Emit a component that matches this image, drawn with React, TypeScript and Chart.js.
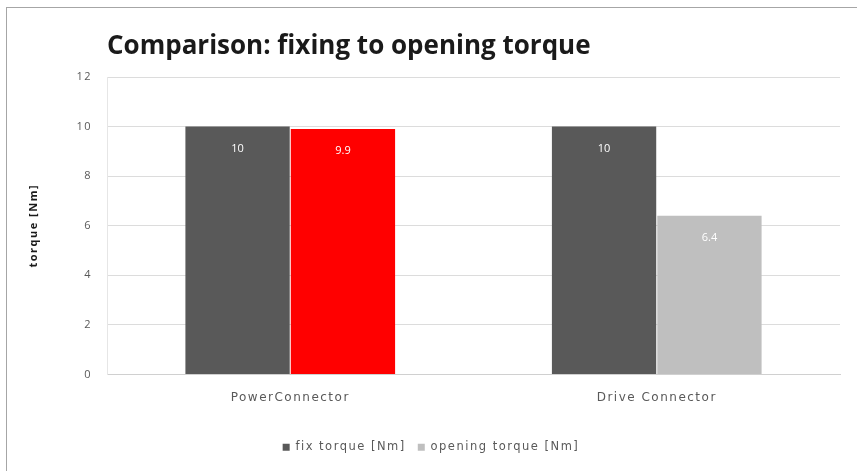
import React, { useEffect, useRef } from "react";
import { Chart, registerables } from "chart.js";

Chart.register(...registerables);

const categories = ["PowerConnector", "Drive Connector"];
const fixTorque = [10, 10];
const openingTorque = [9.9, 6.4];
const fixLabels = ["10", "10"];
const openingLabels = ["9.9", "6.4"];
const openingColors = ["#ff0000", "#bfbfbf"];
const yTicks = [0, 2, 4, 6, 8, 10, 12];

const FONT = "'Open Sans', 'Liberation Sans', sans-serif";
const WIDE = "'DejaVu Sans', sans-serif";

const spacingPlugin = {
  id: "spacing",
  beforeUpdate(chart: any) {
    chart.ctx.letterSpacing = "1.5px";
  },
  beforeDraw(chart: any) {
    chart.ctx.letterSpacing = "1.5px";
  },
};

const decorPlugin = {
  id: "decor",
  afterDraw(chart: any) {
    const ctx = chart.ctx;
    const area = chart.chartArea;
    ctx.save();
    ctx.letterSpacing = "0px";
    // title
    ctx.fillStyle = "#1a1a1a";
    ctx.font = `bold 26px ${FONT}`;
    ctx.textAlign = "left";
    ctx.textBaseline = "alphabetic";
    ctx.fillText("Comparison: fixing to opening torque", area.left, 54);
    // outer border
    ctx.strokeStyle = "#a6a6a6";
    ctx.lineWidth = 1;
    ctx.strokeRect(6.5, 7.5, 870, 480);
    // data labels
    const labels = [fixLabels, openingLabels];
    ctx.font = `11px ${FONT}`;
    ctx.fillStyle = "#ffffff";
    ctx.textAlign = "center";
    ctx.textBaseline = "middle";
    chart.data.datasets.forEach((ds: any, di: number) => {
      const meta = chart.getDatasetMeta(di);
      meta.data.forEach((bar: any, i: number) => {
        ctx.fillText(labels[di][i], bar.x, bar.y + 22);
      });
    });
    ctx.restore();
  },
};

export default function App() {
  const ref = useRef<HTMLCanvasElement>(null);
  useEffect(() => {
    if (!ref.current) return;
    const chart = new Chart(ref.current, {
      type: "bar",
      data: {
        labels: categories,
        datasets: [
          {
            label: "fix torque [Nm]",
            data: fixTorque,
            backgroundColor: "#595959",
            barPercentage: 0.99,
            categoryPercentage: 0.575,
          },
          {
            label: "opening torque [Nm]",
            data: openingTorque,
            backgroundColor: openingColors,
            barPercentage: 0.99,
            categoryPercentage: 0.575,
          },
        ],
      },
      options: {
        animation: false,
        responsive: false,
        layout: { padding: { left: 22, right: 17, top: 77, bottom: 8 } },
        plugins: {
          title: { display: false },
          tooltip: { enabled: false },
          legend: {
            position: "bottom",
            labels: {
              boxWidth: 7,
              boxHeight: 7,
              padding: 12,
              color: "#595959",
              font: { family: WIDE, size: 11.5 },
              generateLabels: (c: any) =>
                c.data.datasets.map((ds: any, i: number) => ({
                  text: ds.label,
                  fillStyle: i === 0 ? "#595959" : "#bfbfbf",
                  strokeStyle: "rgba(0,0,0,0)",
                  lineWidth: 0,
                  datasetIndex: i,
                  hidden: false,
                  fontColor: "#595959",
                })),
            },
          },
        },
        scales: {
          x: {
            grid: { display: false, drawTicks: false },
            border: { display: true, color: "#d0d0d0" },
            ticks: {
              color: "#595959",
              padding: 16,
              font: { family: WIDE, size: 12 },
            },
            afterFit: (s: any) => {
              s.height = 55;
            },
          },
          y: {
            min: 0,
            max: 12,
            afterBuildTicks: (s: any) => {
              s.ticks = yTicks.map((v) => ({ value: v }));
            },
            grid: { color: "#dcdcdc", drawTicks: false },
            border: { display: true, color: "#e6e6e6" },
            ticks: {
              color: "#595959",
              padding: 15,
              font: { family: FONT, size: 11 },
            },
            title: {
              display: true,
              text: "torque [Nm]",
              color: "#1a1a1a",
              font: { family: FONT, size: 11, weight: "bold" },
              padding: { top: 5, bottom: 0 },
            },
            afterFit: (s: any) => {
              s.width = 85;
            },
          },
        },
      },
      plugins: [spacingPlugin, decorPlugin],
    } as any);
    return () => chart.destroy();
  }, []);
  return (
    <div style={{ position: "absolute", left: 0, top: 0, width: 857, height: 471, background: "#fff" }}>
      <canvas ref={ref} width={857} height={471} style={{ width: 857, height: 471 }} />
    </div>
  );
}
